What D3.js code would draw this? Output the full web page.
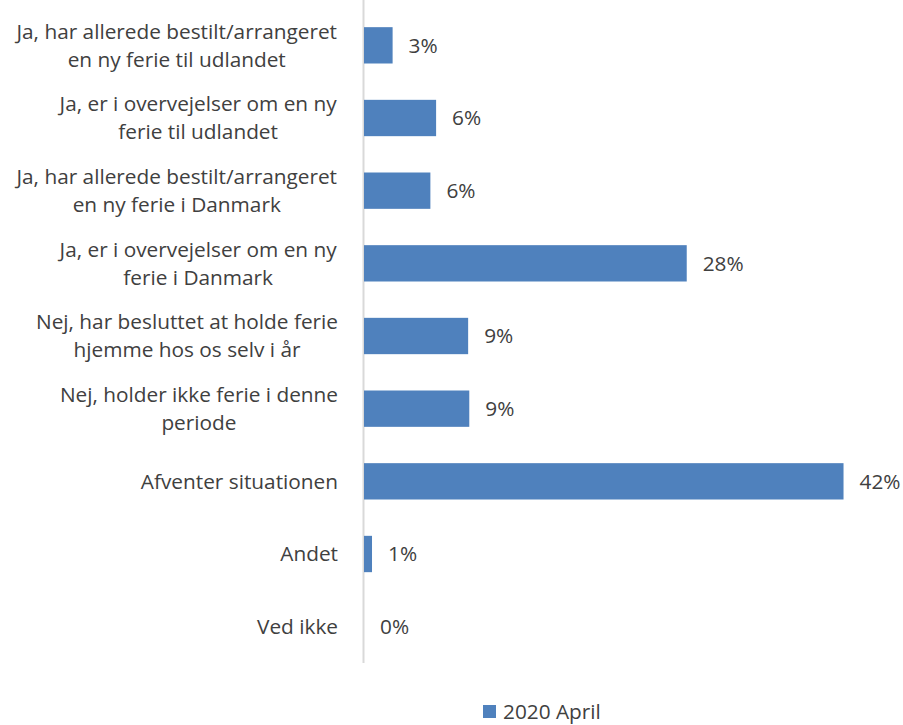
<!DOCTYPE html>
<html>
<head>
<meta charset="utf-8">
<script src="https://cdn.jsdelivr.net/npm/d3@7"></script>
<style>
  body { margin: 0; background: #fff; }
  text { font-family: "Open Sans", sans-serif; fill: #404040; }
</style>
</head>
<body>
<div id="chart"></div>
<script>
const categories = [
  'Ja, har allerede bestilt/arrangeret\nen ny ferie til udlandet',
  'Ja, er i overvejelser om en ny\nferie til udlandet',
  'Ja, har allerede bestilt/arrangeret\nen ny ferie i Danmark',
  'Ja, er i overvejelser om en ny\nferie i Danmark',
  'Nej, har besluttet at holde ferie\nhjemme hos os selv i år',
  'Nej, holder ikke ferie i denne\nperiode',
  'Afventer situationen',
  'Andet',
  'Ved ikke'
];
const values = [2.5, 6.3, 5.8, 28.2, 9.1, 9.2, 41.9, 0.7, 0.0];
const seriesName = '2020 April';

const width = 903;
const height = 725;
const fontSize = 20.8;
const barColor = '#4f81bd';

const svg = d3.select('#chart').append('svg')
  .attr('width', width)
  .attr('height', height);

const x = d3.scaleLinear().domain([0, 45]).range([364, 879]);
const y = d3.scaleBand().domain(categories).range([9, 663])
  .paddingInner(0.5).paddingOuter(0.25);

// axis line
svg.append('line')
  .attr('x1', 363.5).attr('x2', 363.5)
  .attr('y1', 0).attr('y2', 663)
  .attr('stroke', '#d9d9d9')
  .attr('stroke-width', 2);

svg.selectAll('.bar')
  .data(values)
  .enter().append('rect')
    .attr('class', 'bar')
    .attr('x', x(0))
    .attr('y', (d, i) => y(categories[i]))
    .attr('width', d => x(d) - x(0))
    .attr('height', y.bandwidth())
    .attr('fill', barColor);

svg.selectAll('.val')
  .data(values)
  .enter().append('text')
    .attr('class', 'val')
    .attr('x', d => x(d) + 16)
    .attr('y', (d, i) => y(categories[i]) + y.bandwidth() / 2)
    .attr('dy', '0.35em')
    .style('font-size', fontSize + 'px')
    .text(d => Math.round(d) + '%');

// category labels: centered lines, block right-aligned to the axis
const cat = svg.selectAll('.cat')
  .data(categories)
  .enter().append('text')
    .attr('class', 'cat')
    .style('font-size', fontSize + 'px')
    .attr('text-anchor', 'middle');

cat.each(function(d) {
  const lines = d.split('\n');
  const t = d3.select(this);
  const cy = y(d) + y.bandwidth() / 2;
  lines.forEach((ln, i) => {
    t.append('tspan')
      .attr('x', 0)
      .attr('y', cy + (i - (lines.length - 1) / 2) * 28)
      .attr('dy', '0.35em')
      .text(ln);
  });
  const w = this.getBBox().width;
  t.selectAll('tspan').attr('x', 338 - w / 2);
});

// legend
const legend = svg.append('g').attr('transform', 'translate(483, 705)');
legend.append('rect')
  .attr('width', 13).attr('height', 13)
  .attr('fill', barColor);
legend.append('text')
  .attr('x', 20).attr('y', 7)
  .attr('dy', '0.35em')
  .style('font-size', fontSize + 'px')
  .text(seriesName);
</script>
</body>
</html>
